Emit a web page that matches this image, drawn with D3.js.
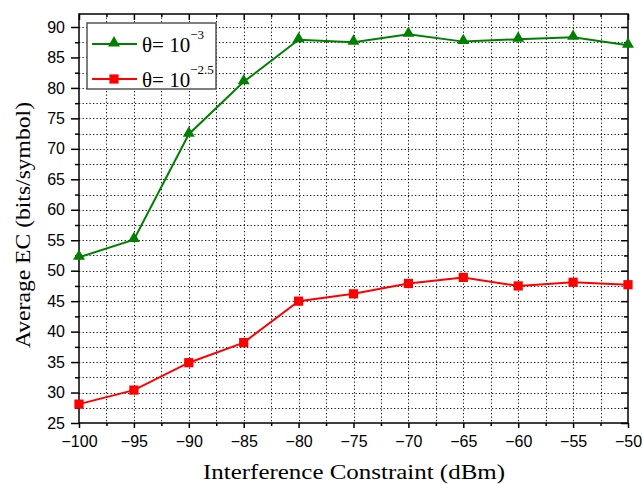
<!DOCTYPE html>
<html><head><meta charset="utf-8">
<script src="https://cdn.jsdelivr.net/npm/d3@7"></script>
<style>body{margin:0;background:#fff}</style>
</head><body>
<svg id="c" width="643" height="484"></svg>
<script>
const xValues = [-100, -95, -90, -85, -80, -75, -70, -65, -60, -55, -50];
const seriesA = [52.2, 55.1, 72.4, 81.0, 87.9, 87.5, 88.8, 87.6, 88.0, 88.3, 87.0];
const seriesB = [28.1, 30.4, 34.9, 38.2, 45.0, 46.2, 47.9, 48.9, 47.5, 48.1, 47.7];
const xTicks = [-100, -95, -90, -85, -80, -75, -70, -65, -60, -55, -50];
const yTicks = [25, 30, 35, 40, 45, 50, 55, 60, 65, 70, 75, 80, 85, 90];
const legendExp = ["\u22123", "\u22122.5"];

const svg = d3.select("#c");
const L = 79, R = 628, T = 14, B = 423;
const x = d3.scaleLinear().domain([-100, -50]).range([L, R]);
const y = d3.scaleLinear().domain([25, 90]).range([B, 27]);
const yTop = y.invert(T);

const minorX = d3.range(-100, -49.9, 2.5);
const minorY = d3.range(25, yTop, 2.5);

// grid
const g = svg.append("g");
g.selectAll(".gx").data(minorX.filter(v => v > -100 && v < -50)).join("line")
  .attr("x1", d => Math.round(x(d)) + 0.5).attr("x2", d => Math.round(x(d)) + 0.5).attr("y1", T).attr("y2", B)
  .attr("stroke", "#000").attr("stroke-width", 1).attr("stroke-dasharray", "1.3,2.2").attr("opacity", 0.9);
g.selectAll(".gy").data(minorY.filter(v => v > 25)).join("line")
  .attr("x1", L).attr("x2", R).attr("y1", d => Math.round(y(d)) + 0.5).attr("y2", d => Math.round(y(d)) + 0.5)
  .attr("stroke", "#000").attr("stroke-width", 1).attr("stroke-dasharray", "1.3,2.2").attr("opacity", 0.9);

// frame
svg.append("rect").attr("x", L).attr("y", T).attr("width", R - L).attr("height", B - T)
  .attr("fill", "none").attr("stroke", "#000").attr("stroke-width", 1.5);

// axes
const fontSans = "Liberation Sans, Arial, sans-serif";
const xAxis = svg.append("g").attr("transform", `translate(0,${B})`)
  .call(d3.axisBottom(x).tickValues(xTicks).tickSize(5).tickPadding(8).tickFormat(d3.format("d")));
const xMinor = svg.append("g").attr("transform", `translate(0,${B})`)
  .call(d3.axisBottom(x).tickValues(minorX.filter(v => !xTicks.includes(v))).tickSize(3).tickFormat(""));
const yAxis = svg.append("g").attr("transform", `translate(${L},0)`)
  .call(d3.axisLeft(y).tickValues(yTicks).tickSize(8).tickPadding(6));
const yMinor = svg.append("g").attr("transform", `translate(${L},0)`)
  .call(d3.axisLeft(y).tickValues(minorY.filter(v => !yTicks.includes(v))).tickSize(4).tickFormat(""));
// top/right inward ticks
const xTop = svg.append("g").attr("transform", `translate(0,${T})`)
  .call(d3.axisBottom(x).tickValues(xTicks).tickSize(6).tickFormat(""));
const xTopMinor = svg.append("g").attr("transform", `translate(0,${T})`)
  .call(d3.axisBottom(x).tickValues(minorX.filter(v => !xTicks.includes(v))).tickSize(3).tickFormat(""));
const yRight = svg.append("g").attr("transform", `translate(${R},0)`)
  .call(d3.axisLeft(y).tickValues(yTicks).tickSize(7).tickFormat(""));
const yRightMinor = svg.append("g").attr("transform", `translate(${R},0)`)
  .call(d3.axisLeft(y).tickValues(minorY.filter(v => !yTicks.includes(v))).tickSize(4).tickFormat(""));

[xAxis, xMinor, yAxis, yMinor, xTop, xTopMinor, yRight, yRightMinor].forEach(a => {
  a.select(".domain").remove();
  a.selectAll("line").attr("stroke", "#000").attr("stroke-width", 1.5);
  a.selectAll("text").attr("font-family", fontSans).attr("font-size", 16).attr("fill", "#000");
});

// series
const colA = "#008000", colB = "#ff0000";
const line = d3.line().x((d, i) => x(xValues[i])).y(d => y(d));
svg.append("path").datum(seriesA).attr("d", line).attr("fill", "none").attr("stroke", colA).attr("stroke-width", 2);
svg.append("path").datum(seriesB).attr("d", line).attr("fill", "none").attr("stroke", colB).attr("stroke-width", 2);
const tri = d3.symbol().type(d3.symbolTriangle).size(62);
const sq = d3.symbol().type(d3.symbolSquare).size(85);
svg.selectAll(".ma").data(seriesA).join("path")
  .attr("transform", (d, i) => `translate(${x(xValues[i])},${y(d) - 1})`).attr("d", tri).attr("fill", colA);
svg.selectAll(".mb").data(seriesB).join("path")
  .attr("transform", (d, i) => `translate(${x(xValues[i])},${y(d)})`).attr("d", sq).attr("fill", colB);

// legend
const lg = svg.append("g");
lg.append("rect").attr("x", 87).attr("y", 23).attr("width", 129).attr("height", 66)
  .attr("fill", "#fff").attr("stroke", "#555").attr("stroke-width", 1.5);
const rows = [{c: colA, s: tri, y: 44, e: legendExp[0]}, {c: colB, s: sq, y: 79, e: legendExp[1]}];
rows.forEach(r => {
  lg.append("line").attr("x1", 92).attr("x2", 137).attr("y1", r.y).attr("y2", r.y).attr("stroke", r.c).attr("stroke-width", 2);
  lg.append("path").attr("transform", `translate(114,${r.y - (r.s === tri ? 1 : 0)})`).attr("d", r.s).attr("fill", r.c);
  const t = lg.append("text").attr("x", 142).attr("y", r.y + 8)
    .attr("font-family", "Liberation Serif, Times New Roman, serif").attr("font-size", 21).attr("fill", "#000");
  t.append("tspan").text("\u03b8= 10");
  t.append("tspan").attr("dy", -13).attr("font-size", 13).text(r.e);
});

// titles
const fontSerif = "Liberation Serif, Times New Roman, serif";
svg.append("text").attr("x", 354).attr("y", 479).attr("text-anchor", "middle")
  .attr("font-family", fontSerif).attr("font-size", 22)
  .attr("textLength", 302).attr("lengthAdjust", "spacingAndGlyphs")
  .text("Interference Constraint (dBm)");
svg.append("text").attr("transform", `translate(30,225) rotate(-90)`).attr("text-anchor", "middle")
  .attr("font-family", fontSerif).attr("font-size", 22)
  .attr("textLength", 246).attr("lengthAdjust", "spacingAndGlyphs")
  .text("Average EC (bits/symbol)");
</script>
</body></html>
